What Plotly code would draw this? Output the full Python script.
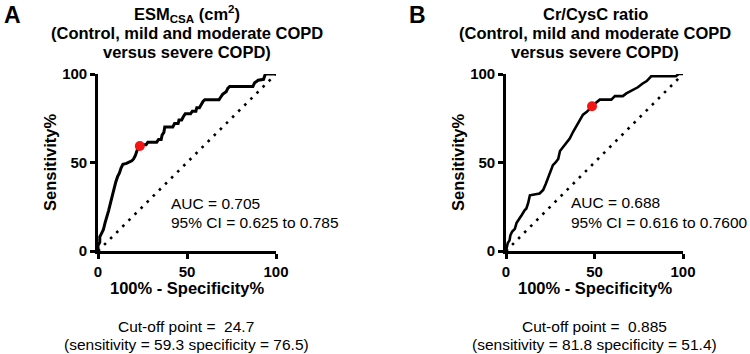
import plotly.graph_objects as go

# ---- data ----
a_fpr = [0, 0, 1, 1, 2, 3, 4, 5, 6, 7, 8, 9, 10, 11, 12, 13, 14, 16, 17, 19, 20, 21, 22, 23.5,
         25, 27, 28, 33, 34, 35.5, 36, 37, 37.5, 42, 43, 45, 45.5, 47, 48, 49, 52, 53, 55, 55.5,
         57, 58, 59, 60, 68, 69, 70, 72, 73, 74, 87, 88, 90, 93, 94, 100]
a_sens = [0, 3, 5, 8, 10, 12, 16, 19, 23, 27, 31, 36, 39, 42, 44, 47, 49, 49.5, 50, 51, 52, 54, 57, 59.3,
          60, 60, 61.5, 61.5, 63, 63, 65.5, 67, 70, 70, 72, 72, 74, 74, 76, 77.5, 77.5, 79, 79, 81,
          81, 83, 84.5, 85.5, 85.5, 87, 88.5, 90, 92, 93, 93, 95, 96.5, 97, 100, 100]
a_cut = (23.5, 59.3)

b_fpr = [0, 0.5, 1, 2, 2.5, 3.5, 5, 6, 7.5, 9, 10.5, 11.5, 12.5, 13.5, 19, 21, 22.5, 24, 25.5, 26.5,
         28, 29.5, 30.5, 32, 34, 36, 38, 40, 42, 43.5, 45.5, 48.6, 50.5, 53, 59.5, 61.5, 66, 68, 70,
         73, 74.5, 77, 79.5, 82, 96, 97.5, 100]
b_sens = [0, 2, 4.5, 6, 9, 11, 12.5, 16, 18, 20.5, 23, 24, 27, 31.5, 32.5, 34.5, 38, 42, 46, 48.5,
          50, 52, 56.5, 58.5, 61, 63.5, 67.5, 71, 74.5, 77, 78.5, 81.8, 83.5, 85.5, 85.5, 87.5, 87.5, 89, 90,
          91.5, 92.5, 94.5, 96, 98.7, 98.7, 100, 100]
b_cut = (48.6, 81.8)

diag = [0, 100]
ticks = [0, 50, 100]

FONT = "Liberation Sans, Arial, sans-serif"
W, H = 750, 354

fig = go.Figure()

for i, (fx, fy, cut) in enumerate([(a_fpr, a_sens, a_cut), (b_fpr, b_sens, b_cut)]):
    xa = "x" if i == 0 else "x2"
    ya = "y" if i == 0 else "y2"
    fig.add_trace(go.Scatter(x=diag, y=diag, mode="lines", xaxis=xa, yaxis=ya,
                             line=dict(color="black", width=2.6, dash="2.6px,6px"),
                             cliponaxis=False, showlegend=False, hoverinfo="skip"))
    fig.add_trace(go.Scatter(x=fx, y=fy, mode="lines", xaxis=xa, yaxis=ya,
                             line=dict(color="black", width=3 if i == 0 else 2.6),
                             cliponaxis=False, showlegend=False))
    fig.add_trace(go.Scatter(x=[cut[0]], y=[cut[1]], mode="markers", xaxis=xa, yaxis=ya,
                             marker=dict(color="#f41414", size=10),
                             cliponaxis=False, showlegend=False))

def px_x(p):
    return p / W

def px_y(p):
    return 1 - p / H

axis_common = dict(range=[0, 100], tickvals=ticks, showline=True, linewidth=2.6, linecolor="black",
                   ticks="outside", ticklen=5, tickwidth=2.6, tickcolor="black", showgrid=False,
                   zeroline=False, automargin=False,
                   tickfont=dict(family=FONT, size=15, color="black", weight="bold"))

yd = [px_y(251), px_y(74)]
fig.update_layout(
    template="none",
    width=W, height=H, margin=dict(l=0, r=0, t=0, b=0, pad=0, autoexpand=False),
    paper_bgcolor="white", plot_bgcolor="white",
    xaxis=dict(domain=[px_x(98), px_x(276)], anchor="y", **axis_common),
    yaxis=dict(domain=yd, anchor="x", **axis_common),
    xaxis2=dict(domain=[px_x(506), px_x(683)], anchor="y2", **axis_common),
    yaxis2=dict(domain=yd, anchor="x2", **axis_common),
)

ann = []

def add(text, x, y, size, bold=False, xanchor="center", angle=0):
    ann.append(dict(text=text, x=px_x(x), y=px_y(y), xref="paper", yref="paper",
                    xanchor=xanchor, yanchor="middle", showarrow=False, textangle=angle,
                    font=dict(family=FONT, size=size, color="black", weight="bold" if bold else "normal")))

# panel letters
add("A", 12, 15, 23, True)
add("B", 417, 15, 23, True)

# titles
for cx, first in [(187, "ESM<sub>CSA</sub> (cm<sup>2</sup>)"), (595, "Cr/CysC ratio")]:
    add(first, cx, 14, 16.5, True)
    add("(Control, mild and moderate COPD", cx, 33, 16.5, True)
    add("versus severe COPD)", cx, 51.5, 16.5, True)

# axis titles
for cx, yx in [(187, 50), (595, 458)]:
    add("Sensitivity%", yx, 162, 16.5, True, angle=-90)
    add("100% - Specificity%", cx, 288, 16.5, True)

# AUC texts
add("AUC = 0.705", 169, 203, 15.5, xanchor="left")
add("95% CI = 0.625 to 0.785", 169, 222, 15.5, xanchor="left")
add("AUC = 0.688", 569, 202, 15.5, xanchor="left")
add("95% CI = 0.616 to 0.7600", 569, 222, 15.5, xanchor="left")

# cut-off texts
add("Cut-off point =  24.7", 186, 326, 15.5)
add("(sensitivity = 59.3 specificity = 76.5)", 186, 344, 15.5)
add("Cut-off point =  0.885", 594, 326, 15.5)
add("(sensitivity = 81.8 specificity = 51.4)", 594, 344, 15.5)

fig.update_layout(annotations=ann)
fig.write_html("out.html", config={"displayModeBar": False},
               post_script="document.body.style.margin='0';document.body.style.padding='0';")
